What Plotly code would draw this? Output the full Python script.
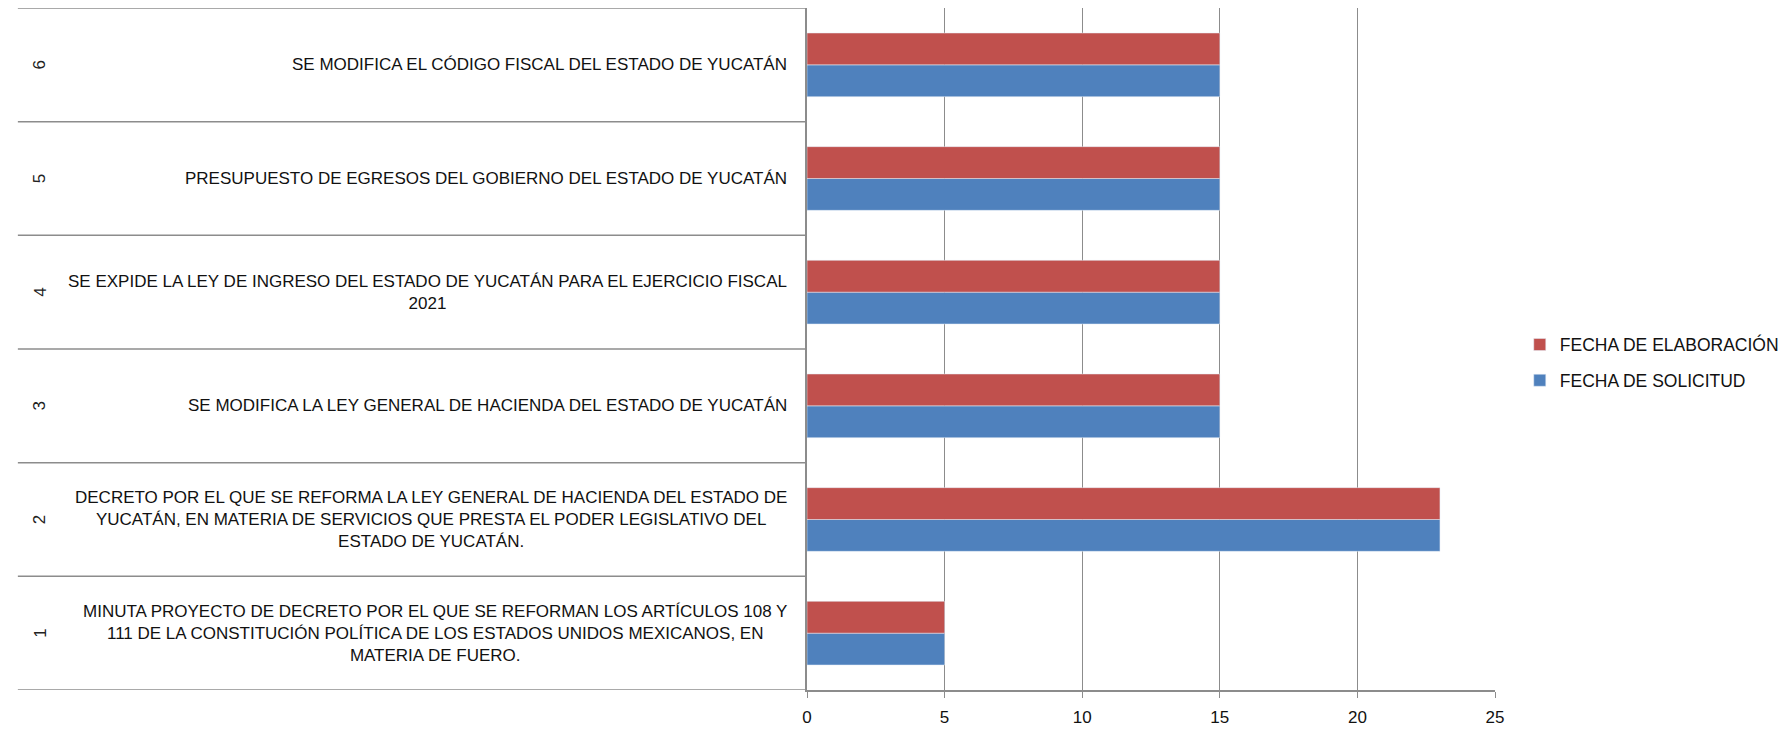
import plotly.graph_objects as go

# data
numeros = ["1", "2", "3", "4", "5", "6"]
asuntos = [
    "MINUTA PROYECTO DE DECRETO POR EL QUE SE REFORMAN LOS ARTÍCULOS 108 Y<br>"
    "111 DE LA CONSTITUCIÓN POLÍTICA DE LOS ESTADOS UNIDOS MEXICANOS, EN<br>"
    "MATERIA DE FUERO.",
    "DECRETO POR EL QUE SE REFORMA LA LEY GENERAL DE HACIENDA DEL ESTADO DE<br>"
    "YUCATÁN, EN MATERIA DE SERVICIOS QUE PRESTA EL PODER LEGISLATIVO DEL<br>"
    "ESTADO DE YUCATÁN.",
    "SE MODIFICA LA LEY GENERAL DE HACIENDA DEL ESTADO DE YUCATÁN",
    "SE EXPIDE LA LEY DE INGRESO DEL ESTADO DE YUCATÁN PARA EL EJERCICIO FISCAL<br>2021",
    "PRESUPUESTO DE EGRESOS DEL GOBIERNO DEL ESTADO DE YUCATÁN",
    "SE MODIFICA EL CÓDIGO FISCAL DEL ESTADO DE YUCATÁN",
]
fecha_solicitud = [5, 23, 15, 15, 15, 15]
fecha_elaboracion = [5, 23, 15, 15, 15, 15]
x_ticks = [0, 5, 10, 15, 20, 25]

FONT = "Liberation Sans, Arial, sans-serif"
GRID = "#8c8c8c"
ROJO = "#C0504D"
AZUL = "#4F81BD"

fig = go.Figure()
fig.add_trace(go.Bar(
    y=numeros, x=fecha_solicitud, orientation="h",
    name="FECHA DE SOLICITUD", marker_color=AZUL,
    legendgroup="a", legendrank=2,
))
fig.add_trace(go.Bar(
    y=numeros, x=fecha_elaboracion, orientation="h",
    name="FECHA DE ELABORACIÓN", marker_color=ROJO,
    legendgroup="b", legendrank=1,
))

# left "table": rotated number + label text for each category
annotations = []
for i, (num, txt) in enumerate(zip(numeros, asuntos)):
    annotations.append(dict(
        x=-1.132, y=i, xref="paper", yref="y", text=num, textangle=-90,
        showarrow=False, font=dict(size=17, color="#222", family=FONT),
    ))
    annotations.append(dict(
        x=-0.026, y=i, xref="paper", yref="y", text=txt, xanchor="right",
        align="center", showarrow=False,
        font=dict(size=17, color="#111", family=FONT),
    ))

# separator lines of the category table
shapes = []
for k in range(len(numeros) + 1):
    shapes.append(dict(
        type="line", xref="paper", yref="y", x0=-1.147, x1=0,
        y0=k - 0.5, y1=k - 0.5, line=dict(color=GRID, width=1.5),
    ))

fig.update_layout(
    width=1784, height=728,
    margin=dict(l=799, r=297, t=0, b=46),
    barmode="group", bargap=0.44, bargroupgap=0,
    plot_bgcolor="white", paper_bgcolor="white",
    font=dict(family=FONT, size=17, color="#111"),
    annotations=annotations, shapes=shapes,
    legend=dict(
        x=1.036, y=0.48, xanchor="left", yanchor="middle",
        traceorder="grouped", tracegroupgap=10,
        font=dict(size=17.5, family=FONT, color="#111"),
    ),
    xaxis=dict(
        range=[0, 25], tickvals=x_ticks, showgrid=True, gridcolor=GRID,
        gridwidth=1, showline=True, linecolor=GRID, linewidth=1.5,
        ticks="outside", ticklen=6, tickcolor=GRID, zeroline=False,
        ticklabelstandoff=5,
        tickfont=dict(size=17, family=FONT, color="#111"),
    ),
    yaxis=dict(
        type="category", range=[-0.5, 5.5], showticklabels=False,
        showgrid=False, showline=True, linecolor=GRID, linewidth=1.5,
        ticks="", zeroline=False,
    ),
)

fig.write_html("out.html")
